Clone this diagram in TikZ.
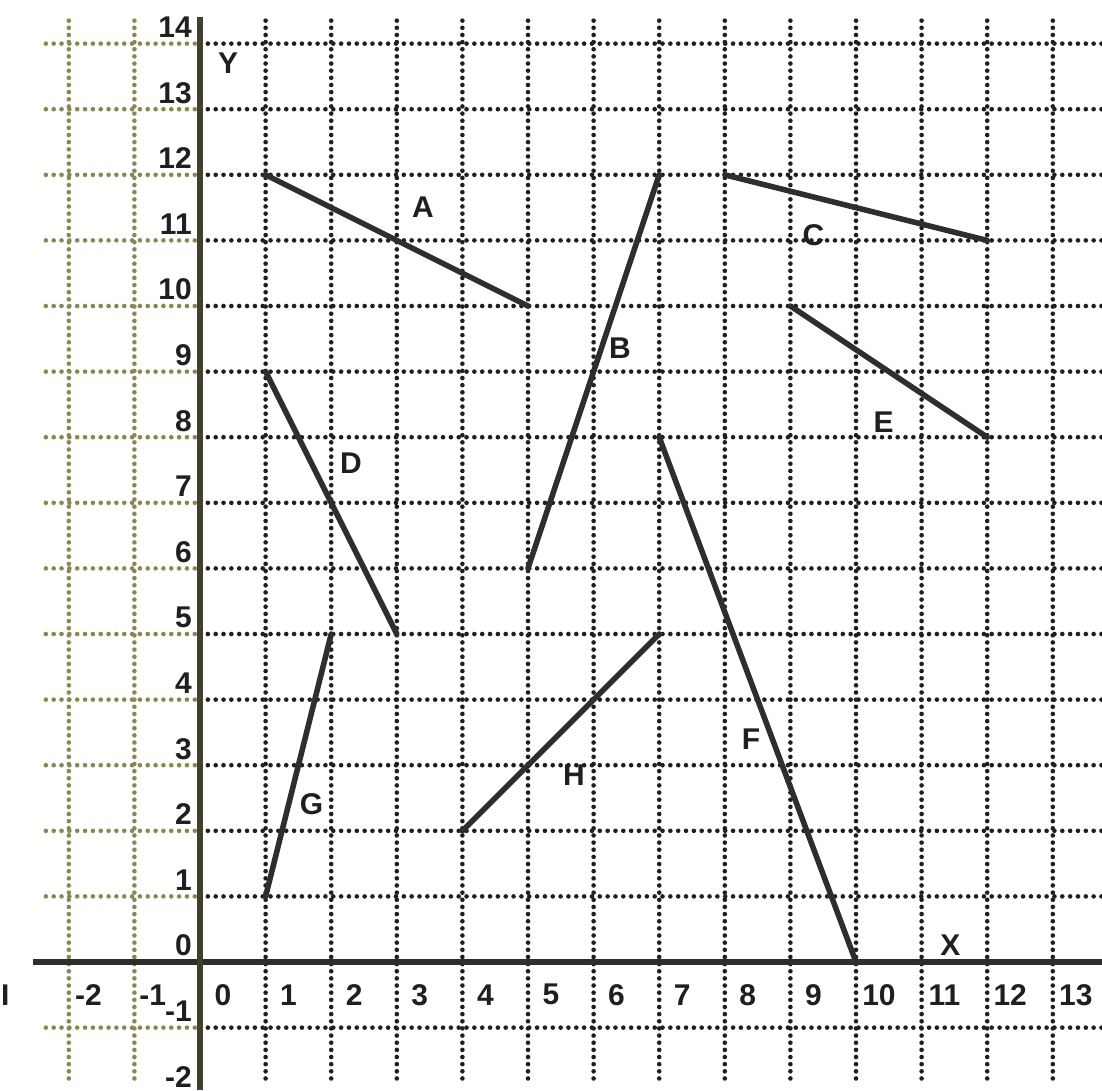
\documentclass[tikz,border=0pt]{standalone}
\usepackage{fontspec}
\setmainfont{Liberation Sans}
\begin{document}
\begin{tikzpicture}[x=1cm,y=1cm,
  gridv/.style={draw=black!88, line width=2pt, line cap=round, dash pattern=on 0pt off 3.1pt},
  gridh/.style={draw=black!88, line width=2pt, line cap=round, dash pattern=on 0pt off 3.4pt},
  gridvl/.style={gridv, draw=olive!55!black!72},
  gridhl/.style={gridh, draw=olive!55!black!72},
  axisline/.style={draw=black!82, line width=2.4pt},
  seg/.style={draw=black!82, line width=2.4pt, line cap=round},
  lbl/.style={font=\fontsize{13}{15}\selectfont\bfseries, text=black!88, inner sep=0pt},
  tick/.style={font=\fontsize{13}{15}\selectfont\bfseries, text=black!88, inner sep=0pt}]
\useasboundingbox (-3.049,-1.966) rectangle (13.750,14.665);
\fill[white] (-3.049,-1.966) rectangle (13.750,14.665);
% grid
\foreach \y in {-1,...,14} {\draw[gridhl] (-2.35,\y) -- (0,\y); \draw[gridh] (0,\y) -- (13.75,\y);}
\foreach \x in {-2,-1} {\draw[gridvl] (\x,14.35) -- (\x,-1.85);}
\foreach \x in {1,...,13} {\draw[gridv] (\x,14.35) -- (\x,-1.85);}
% axes
\coordinate (xl) at (-2.55,0);
\coordinate (xr) at (13.75,0);
\coordinate (yt) at (0,14.4);
\coordinate (yb) at (0,-1.95);
\draw[axisline] (xl) -- (xr);
\draw[axisline, draw=black!70!olive] (yt) -- (yb);
\node[tick] (xlab) at (11.44,0.26) {X};
\node[tick] (ylab) at (0.43,13.7) {Y};
% tick labels
\foreach \v in {0,...,13} {\node[tick] (tx\v) at (\v+0.35,-0.5) {\v};}
\node[tick] (txm1) at (-0.72,-0.5) {-1};
\node[tick] (txm2) at (-1.7,-0.5) {-2};
\node[tick] (txm3) at (-2.97,-0.5) {I};
\foreach \v in {-2,...,14} {\node[tick, anchor=east] (ty\v) at (-0.12,\v+0.25) {\v};}
% segment end points
\coordinate (A1) at (1,12); \coordinate (A2) at (5,10);
\coordinate (B1) at (5,6);  \coordinate (B2) at (7,12);
\coordinate (C1) at (8,12); \coordinate (C2) at (12,11);
\coordinate (D1) at (1,9);  \coordinate (D2) at (3,5);
\coordinate (E1) at (9,10); \coordinate (E2) at (12,8);
\coordinate (F1) at (7,8);  \coordinate (F2) at (10,0);
\coordinate (G1) at (1,1);  \coordinate (G2) at (2,5);
\coordinate (H1) at (4,2);  \coordinate (H2) at (7,5);
\draw[seg] (A1) -- (A2);
\draw[seg] (B1) -- (B2);
\draw[seg] (C1) -- (C2);
\draw[seg] (D1) -- (D2);
\draw[seg] (E1) -- (E2);
\draw[seg] (F1) -- (F2);
\draw[seg] (G1) -- (G2);
\draw[seg] (H1) -- (H2);
% segment labels
\node[lbl] (lA) at (3.4,11.5) {A};
\node[lbl] (lB) at (6.4,9.35) {B};
\node[lbl] (lC) at (9.35,11.08) {C};
\node[lbl] (lD) at (2.3,7.6) {D};
\node[lbl] (lE) at (10.42,8.23) {E};
\node[lbl] (lF) at (8.4,3.4) {F};
\node[lbl] (lG) at (1.7,2.4) {G};
\node[lbl] (lH) at (5.7,2.85) {H};
\end{tikzpicture}
\end{document}
